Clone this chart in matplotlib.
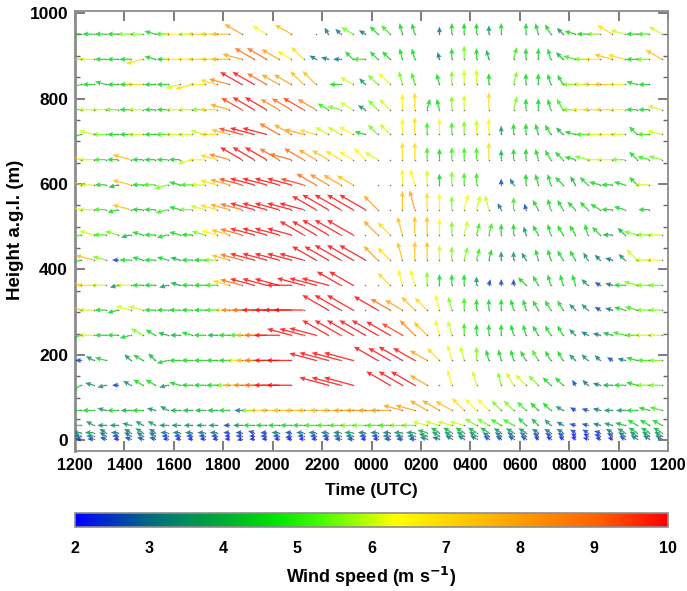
import numpy as np
import matplotlib
matplotlib.use("Agg")
import matplotlib.pyplot as plt
from matplotlib.colors import LinearSegmentedColormap, Normalize
from matplotlib.cm import ScalarMappable

nan = np.nan

# half-hour profiles, 12:15 UTC .. 11:45 UTC next day (hours since 00 UTC day 1)
times = np.arange(12.25, 36.0, 0.5)

# gate heights (m a.g.l.), bottom to top
heights = [3, 10, 18, 35, 70, 129, 187, 246, 305, 363, 422, 481,
           540, 598, 657, 716, 774, 833, 892, 951]

# wind speed (m/s) per gate, 48 profiles; nan = no data, 0 = dot only
# direction letters: A=arrow up (0 deg), 15 deg per letter clockwise, S=left
spd_3 = [2.5, 2.5, 2.5, 2, 2.5, 2.5, 2.5, 2, 2, 2, 2, 2, 2,
         2, 2, 2, 2, 2, 2, 2, 2, 2.5, 2.5, 2,
         2, 2.5, 2.5, 2.5, 3, 3, 3, 3, 3, 2.5, 2.5, 2.5,
         2.5, 2, 2, 2, 2, 2, 2, 2, 2.5, 3, 3, 3]
dir_3 = "SSTSTTTSSSSSS" "RSSSSSSSSSS" "SSSSTTUUUUUU" "UUUUUTTTUUUU"

spd_10 = [3, 3, 3, 2.5, 3, 3, 3, 2.5, 2.5, 2.5, 2.5, 2.5, 2,
          2.5, 2, 2.5, 2.5, 2.5, 2.5, 2.5, 2.5, 3, 3, 2.5,
          2.5, 3, 3, 3, 3.5, 3.5, 3.5, 3.5, 3.5, 3, 3, 3,
          3, 2.5, 2.5, 2.5, 2, 2, 2.5, 2.5, 3, 3.5, 3.5, 3.5]
dir_10 = "SSUSUUUSSSSSS" "SSSSRSSSSSS" "SSSSTUUUUUUU" "UUUUUUTUUUUU"

spd_18 = [3.5, 3.5, 3, 3, 3, 3.5, 3, 3, 3, 3, 3, 3, 2.5,
          2.5, 2.5, 2.5, 3, 2.5, 3, 3, 3, 3, 3.5, 3,
          3, 3, 3.5, 3.5, 4, 4, 4, 4, 4, 4, 3.5, 3.5,
          3.5, 3, 3, 3, 2.5, 2.5, 2.5, 3, 3.5, 4, 4, 4]
dir_18 = "SSUSUUUSSSSSS" "STSSSSSSSSS" "SSSSTUUUUUUU" "UUUUUUTUUUUU"

spd_35 = [4.5, 3.5, 3.5, 3.5, 3.5, 3.5, 3.5, 3.5, 3.5, 3.5, 3.5, 3.5, 2.5,
          3.5, 4.5, 4.5, 4.5, 4.5, 4.5, 5, 5, 5, 5.5, 5.5,
          5, 5, 5.5, 5.5, 6, 6, 6, 6, 5.5, 5.5, 5, 5,
          4.5, 4, 3.5, 3, 2.5, 2.5, 3, 3.5, 4, 4.5, 4.5, 4.5]
dir_35 = "SUSSTUUSSSSSS" "SSSSSSSSSSS" "SSSSTTTTUUUU" "VVVUTTTTTUUU"

spd_70 = [4.5, 4.5, 3.5, 4.5, 4, 4.5, 3.5, 3.5, 4, 4, 4, 4, 4.5,
          3, 5.5, 7, 7.5, 7.5, 7.5, 7.5, 7.5, 7.5, 8, 8,
          8, 8, 8, 8, 8, 8, 7.5, 7, 6.5, 6.5, 5.5, 5.5,
          5, 4.5, 4.5, 3.5, 2.5, 2.5, 3, 3.5, 3.5, 4.5, 4.5, 5]
dir_70 = "SSTSSSTUSSSSS" "SSSSSSSSSSS" "SSTTUUUVVVVV" "VVVUUTTSSSTT"

spd_129 = [4.5, 3.5, 3.5, 2.5, 3.5, 4.5, 4.5, 3.5, 4.5, 4.5, 4.5, 4.5, 5.5,
           7.5, 8.5, 9, 10, 10, nan, nan, 12, 12, 12, nan,
           nan, 11, 11, 11, 8, 0, 6.5, nan, 6, nan, 5.5, 6,
           6, 5.5, 4.5, 4.5, 2.5, 3, 3, 4, 4.5, 4.5, 5.5, 5.5]
dir_129 = "QTRSUUURTSSSS" "SSSSS..TTT." ".UUUU.X.X.XW" "VVVVWVTSSTSS"

spd_187 = [2.5, 3.5, 4.5, nan, 3.5, 4.5, 4, 4.5, 4.5, 4.5, 4.5, 4.5, 4.5,
           6, 7.5, 9, 10, 10, nan, 11, 12, 12, 12, nan,
           11, 10, 11, 10, 8, 7, 6.5, 6, 5.5, 4.5, 4.5, 4.5,
           4.5, 5, 4.5, 4.5, 3.5, 3.5, 3, 2.5, 3, 4.5, 5, 5.5]
dir_187 = "SUT.VUVRSSSSS" "SSSSS.TTTT." "UUUUUVXXAXXX" "WWWWVVVUTTSS"

spd_246 = [4.5, 6, 4.5, 4.5, 4.5, 5.5, 4.5, 4, 4, 4.5, 4.5, 4, 4.5,
           5, 7.5, 9, 10, 10, 10, 11, 12, 12, 12, 12,
           12, 11, 9.5, 8.5, 7.5, 6.5, 6, 5, 4.5, 4.5, 4.5, 4.5,
           4.5, 4.5, 4.5, 4.5, 3.5, 3, 3, 4, 5, 5, 6, 6]
dir_246 = "RSSSRUUTSTSSS" "SSSSTTTUUUU" "UUUVVXXAAAAX" "XWWWVUTTTSSS"

spd_305 = [7.5, 6, 4.5, 4.5, 6, 6, 4.5, 4.5, 4.5, 4.5, 4.5, 5, 6,
           8.5, 9, 10, 10, 11, 12, nan, 12, 12, 12, 0,
           11, 9, 8, 7.5, 7, 6.5, 5.5, 5, 4.5, 4.5, 4.5, 4.5,
           4.5, 4.5, 4.5, 4.5, 3.5, 3.5, 2.5, 3, 4.5, 5, 5.5, 5.5]
dir_305 = "TSSRTTSSSSSSS" "SSSSSS.UUU." "UUUVVXXAAAAX" "XWWWVVUTTTSS"

spd_363 = [7.5, 7, 6, 3.5, 6, 4.5, 4.5, 3.5, 4, 4.5, 4.5, 5, 7,
           9, 10, 10, 10, 10, 11, 11, 11, 11, 11, 0,
           0, 7, 6.5, 6.5, 5.5, 4.5, 4.5, 4.5, 3.5, 2.5, 2.5, 2.5,
           4.5, 4.5, 4.5, 4.5, 4.5, 3.5, 2.5, 3, 4.5, 5.5, 5.5, 5.5]
dir_363 = "TSSRSSSRTSSST" "TTTTSTTTUU." ".VXXAAAAABAA" "VWXXXVUTSTSS"

spd_422 = [4.5, 7.5, 5.5, 2.5, 4.5, 4.5, 4.5, 4.5, 4, 4.5, 4.5, 5.5, 7.5,
           9, 10, 10, 10, 10, 10, 11, 11, 12, 12, 12,
           8, 7, 7.5, 7.5, 7.5, 6, 5.5, 5.5, 5, 4.5, 3.5, 3.5,
           3.5, 4.5, 4.5, 4.5, 4.5, 3.5, 3, 3, 3.5, 6, 6, 6.5]
dir_422 = "RTTSSTSTTSSST" "TTTTTTUUUUU" "VVXAAAABBBAA" "WXXWWWVTVVSS"

spd_481 = [5, 6, 5, 5.5, 4, 4.5, 4.5, 4.5, 4.5, 4.5, 5.5, 6.5, 7.5,
           9, 10, 10, 10, 10, 11, 11, 12, 12, 12, 0,
           8, 7, 7.5, 7.5, 7.5, 6.5, 5.5, 6, 5, 5, 4.5, 4.5,
           3.5, 4.5, 4.5, 4.5, 4.5, 4.5, 4.5, 4, 4, 5.5, 5.5, 6]
dir_481 = "RTSTRTSRTSTTT" "TTTTTUUUUU." "VVXAAAABBBAA" "XWXWWXVSVTSS"

spd_540 = [6.5, 6, 5, 4.5, 7.5, 4.5, 4.5, 5, 4.5, 5.5, 6, 7, 8,
           9, 10, 10, 10, 10, 10, 11, 12, 12, 12, 12,
           8, 0, 7.5, 8, 7, 6.5, 5.5, 6.5, 6, 6, 3, 5,
           2.5, 4.5, 4.5, 4.5, 4.5, 4.5, 4.5, 4.5, 4.5, nan, 4.5, nan]
dir_540 = "TSSRTSSRTSTTT" "TTTTTTUUUUU" "V.AXAAABBXWA" "XWXWVVUST.S."

spd_598 = [7.5, 6, 4.5, 4, 7.5, 4.5, 5, 5.5, 4.5, 5, 6, 7, 8,
           9.5, 10, 10, 10, 10, 9.5, 9, 8.5, 8, 7.5, nan,
           0, 0, 6.5, 6.5, 6, 4.5, 5.5, 5, 5, nan, 2.5, 3,
           4.5, 4.5, 4.5, 4.5, 4, 4.5, 4.5, 4.5, 4.5, 4.5, 6, nan]
dir_598 = "TSSRTSSRTSSTT" "TTTTTTUUUU." "..AXAAAAA.AW" "AXXVWVTSTVS."

spd_657 = [7, 6, 5, 4.5, 7.5, 4.5, 4.5, 4.5, 4.5, 6, 6.5, 7, 8.5,
           10, 10, 10, 9, 9, 9, 8, 7.5, 7, 6.5, 6.5,
           6, 0, 7, 7, 5, 4.5, 5, 5, 5, 7, 4, 4.5,
           4.5, 4.5, 4.5, 4.5, 4.5, 5.5, 6, 6.5, 5.5, 4.5, 5, 5.5]
dir_657 = "TSSSTSSSSRSTT" "UUUUTUUUUUV" "U.AAAAAAAAAA" "AXWVTTSSSVTT"

spd_716 = [4.5, 6, 5.5, 4.5, 4.5, 6, 4.5, 5, 6, 6, 6, 7, 7.5,
           9.5, 10, 10, 9, 8, 8, 7, 6, 6, 6.5, 4.5,
           5.5, 6, 6.5, 7, 5, 6.5, 5, 5.5, 6, 6.5, 3.5, 4.5,
           4.5, 4.5, 4.5, 4, 4.5, 5, 6, 6.5, 6, 4.5, 5, 6]
dir_716 = "RTSSSSSSSSTST" "TTTUUTTUUUT" "VVAAAAAAAAAA" "AXWVTSSSSVST"

spd_774 = [5, 6, 6, 5.5, 4.5, 6, 4.5, 4.5, 6, 6, 5.5, 7, 8,
           9.5, 10, 10, 8.5, 9, 9.5, 8.5, 5, 5.5, 6, 3.5,
           5.5, 6, 6.5, 7, 4.5, 4.5, 5.5, 6, nan, 7, nan, 5.5,
           4.5, 4.5, 4.5, 5, 5.5, 6.5, 7, 7, 6.5, 4.5, 4.5, 6]
dir_774 = "SSSSSSSSSSSST" "UUUUUUUUTUU" "VVAABXAA.A.B" "AAXWSSSSSSST"

spd_833 = [5, 4.5, 4.5, 4.5, 4.5, 7, 4.5, 4.5, 6, 7, 6.5, 7, 8.5,
           10, 10, 9, 8, 8, 7.5, 7.5, nan, 4.5, 6, 3.5,
           5.5, 6.5, 5.5, 5, nan, 4.5, 5.5, 6, 6, 4.5, nan, 5.5,
           4.5, 4.5, 4.5, 4.5, 5.5, 6, 7, 7.5, 6.5, 4.5, 4.5, nan]
dir_833 = "RSTSSSSSRRSTT" "UUUUUVV.SUV" "VVXX.XAAAA.B" "AAXWSSSSSTS."

spd_892 = [5.5, 6, 4.5, 4.5, 4.5, 7, 4.5, 4.5, 6.5, 6.5, 7, 7, 7.5,
           8, 9, 9, 8, 6.5, 7, 3, 3, 3, 4.5, 5,
           4.5, 4.5, 4.5, 4.5, nan, 3, 4.5, 5.5, 4.5, 4, nan, 5,
           4.5, 4.5, 4.5, 4, 5, 5.5, 6.5, 7.5, 7, 4.5, 5.5, 7.5]
dir_892 = "SSSSSRTSSSSSS" "TUUUUVUTSVS" "VVXX.XAAAX.B" "AAXVTSSTTSSU"

spd_951 = [4.5, 4.5, 4.5, 4.5, 5.5, 5.5, 4.5, 5, 6.5, 6, 7, 7, 7.5,
           8, nan, 6.5, nan, 7.5, nan, 0, 3, 3, 5.5, 3,
           4.5, 5, 4.5, 4.5, nan, 3, 4.5, 4.5, 4.5, 3.5, 4.5, nan,
           4.5, 4.5, 4.5, 3.5, 4.5, 4.5, 5.5, 7, 6, 4.5, 5, 6]
dir_951 = "SSSSSSTSSSSSS" "U.U.U..WVUU" "VVXX.AAAAAA." "AXWVTSSUTSSU"

speed_rows = [spd_3, spd_10, spd_18, spd_35, spd_70, spd_129, spd_187,
              spd_246, spd_305, spd_363, spd_422, spd_481, spd_540,
              spd_598, spd_657, spd_716, spd_774, spd_833, spd_892, spd_951]
dir_rows = [dir_3, dir_10, dir_18, dir_35, dir_70, dir_129, dir_187,
            dir_246, dir_305, dir_363, dir_422, dir_481, dir_540,
            dir_598, dir_657, dir_716, dir_774, dir_833, dir_892, dir_951]

xtick_hours = np.arange(12, 37, 2)
xtick_labels = ["%02d00" % (h % 24) for h in xtick_hours]
cbar_ticks = [2, 3, 4, 5, 6, 7, 8, 9, 10]

LETTERS = "ABCDEFGHIJKLMNOPQRSTUVWX"

# rainbow-like palette of the original colour bar
wind_cmap = LinearSegmentedColormap.from_list("wind", [
    (0.000, (0.00, 0.00, 1.00)),
    (0.125, (0.00, 0.42, 0.50)),
    (0.250, (0.00, 0.68, 0.20)),
    (0.340, (0.00, 0.90, 0.00)),
    (0.420, (0.30, 1.00, 0.00)),
    (0.540, (1.00, 1.00, 0.00)),
    (0.750, (1.00, 0.62, 0.00)),
    (0.880, (1.00, 0.38, 0.00)),
    (1.000, (1.00, 0.00, 0.00)),
])
norm = Normalize(2, 10)

xs, ys, us, vs, cs = [], [], [], [], []
dot_x, dot_y = [], []
for h, spd, dirs in zip(heights, speed_rows, dir_rows):
    for t, s, ch in zip(times, spd, dirs):
        if np.isnan(s):
            continue
        dot_x.append(t)
        dot_y.append(h)
        if s <= 0 or ch == ".":
            continue
        a = np.deg2rad(LETTERS.index(ch) * 15)
        xs.append(t)
        ys.append(h)
        us.append(s * np.sin(a))
        vs.append(s * np.cos(a))
        cs.append(min(max(s, 2), 10))

plt.rcParams["font.family"] = ["Liberation Sans", "DejaVu Sans"]

fig = plt.figure(figsize=(6.87, 5.91), dpi=100)
ax = fig.add_axes([75 / 687, 1 - 451 / 591, 593 / 687, 440 / 591])

ax.quiver(xs, ys, us, vs, cs, cmap=wind_cmap, norm=norm,
          angles="uv", scale_units="inches", scale=40, pivot="tail",
          units="dots", width=1.3, headwidth=4, headlength=4.5,
          headaxislength=4, alpha=0.8, zorder=3)
ax.scatter(dot_x, dot_y, s=1.2, color="0.45", linewidths=0, zorder=4)

ax.set_xlim(12, 36)
ax.set_ylim(-25, 1005)
ax.set_xticks(xtick_hours)
ax.set_xticklabels(xtick_labels)
ax.set_yticks(np.arange(0, 1001, 200))
ax.set_yticks(np.arange(0, 1001, 50), minor=True)
ax.tick_params(axis="both", which="major", direction="in", length=7,
               width=1.2, color="0.4", top=True, right=True,
               labelsize=11.5, pad=5)
ax.tick_params(axis="y", which="major", labelsize=12.5)
ax.tick_params(axis="y", which="minor", direction="in", length=3.5,
               width=1, color="0.4", right=True)
for lab in ax.get_xticklabels() + ax.get_yticklabels():
    lab.set_fontweight("bold")
for sp in ax.spines.values():
    sp.set_color("0.55")
    sp.set_linewidth(1.3)
ax.spines["left"].set_linewidth(2)

fig.text(371 / 687, 1 - 490 / 591, "Time (UTC)", ha="center", va="center",
         fontsize=12.5, fontweight="bold")
fig.text(16 / 687, 1 - 230 / 591, "Height a.g.l. (m)", ha="center",
         va="center", rotation=90, fontsize=13.5, fontweight="bold")

cax = fig.add_axes([75 / 687, 1 - 527 / 591, 593 / 687, 14 / 591])
cb = fig.colorbar(ScalarMappable(norm=norm, cmap=wind_cmap), cax=cax,
                  orientation="horizontal", ticks=cbar_ticks)
cb.outline.set_edgecolor("0.55")
cb.outline.set_linewidth(1.2)
cax.tick_params(length=0, labelsize=11.5, pad=10)
for lab in cax.get_xticklabels():
    lab.set_fontweight("bold")
fig.text(371 / 687, 1 - 577 / 591, "Wind speed (m s$^{\\mathbf{-1}}$)",
         ha="center", va="center", fontsize=13, fontweight="bold")

fig.savefig("out.png", dpi=100)
